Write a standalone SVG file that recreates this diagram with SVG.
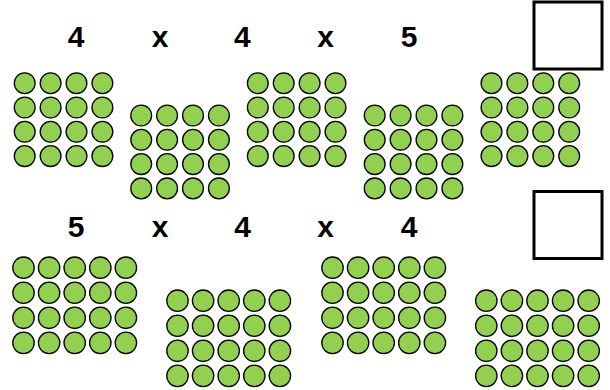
<svg xmlns="http://www.w3.org/2000/svg" xmlns:xlink="http://www.w3.org/1999/xlink" width="610" height="390" viewBox="0 0 610 390">
<style>
.d{fill:#92D050;stroke:#000;stroke-width:1.3}
.t{font-family:"Liberation Sans",Arial,sans-serif;font-weight:bold;font-size:30px;fill:#000;text-anchor:middle}
.b{fill:#fff;stroke:#000;stroke-width:3}
</style>
<defs>
<g id="r4">
<circle class="d" cx="0" cy="0" r="10.4"/><circle class="d" cx="25.9" cy="0" r="10.4"/><circle class="d" cx="51.8" cy="0" r="10.4"/><circle class="d" cx="77.7" cy="0" r="10.4"/>
</g>
<g id="g4">
<use href="#r4" xlink:href="#r4" y="0"/><use href="#r4" xlink:href="#r4" y="24.3"/><use href="#r4" xlink:href="#r4" y="48.6"/><use href="#r4" xlink:href="#r4" y="72.9"/>
</g>
<g id="r5">
<circle class="d" cx="0" cy="0" r="10.7"/><circle class="d" cx="25.6" cy="0" r="10.7"/><circle class="d" cx="51.2" cy="0" r="10.7"/><circle class="d" cx="76.8" cy="0" r="10.7"/><circle class="d" cx="102.4" cy="0" r="10.7"/>
</g>
<g id="g5">
<use href="#r5" xlink:href="#r5" y="0"/><use href="#r5" xlink:href="#r5" y="25.05"/><use href="#r5" xlink:href="#r5" y="50.1"/><use href="#r5" xlink:href="#r5" y="75.15"/>
</g>
</defs>
<rect width="610" height="390" fill="#fff"/>
<g id="labels-top">
<text class="t" x="76" y="46.7">4</text>
<text class="t" x="160" y="46.7">x</text>
<text class="t" x="242.3" y="46.7">4</text>
<text class="t" x="325.5" y="46.7">x</text>
<text class="t" x="409" y="46.7">5</text>
</g>
<g id="labels-bottom">
<text class="t" x="76" y="236.7">5</text>
<text class="t" x="160" y="236.7">x</text>
<text class="t" x="242.5" y="236.7">4</text>
<text class="t" x="325.5" y="236.7">x</text>
<text class="t" x="409" y="236.7">4</text>
</g>
<g id="answer-top"><rect class="b" x="534" y="2" width="68" height="67"/></g>
<g id="answer-bottom"><rect class="b" x="534" y="191.5" width="68" height="67"/></g>
<g id="grid1"><use href="#g4" xlink:href="#g4" x="24.7" y="83.2"/></g>
<g id="grid2"><use href="#g4" xlink:href="#g4" x="141.2" y="115.5"/></g>
<g id="grid3"><use href="#g4" xlink:href="#g4" x="257.8" y="83.2"/></g>
<g id="grid4"><use href="#g4" xlink:href="#g4" x="374.7" y="115.5"/></g>
<g id="grid5"><use href="#g4" xlink:href="#g4" x="491.5" y="83.2"/></g>
<g id="grid6"><use href="#g5" xlink:href="#g5" x="23.5" y="267.7"/></g>
<g id="grid7"><use href="#g5" xlink:href="#g5" x="177.5" y="300.7"/></g>
<g id="grid8"><use href="#g5" xlink:href="#g5" x="332.5" y="267.7"/></g>
<g id="grid9"><use href="#g5" xlink:href="#g5" x="486.3" y="300.7"/></g>
<g id="connectors"/>
</svg>
